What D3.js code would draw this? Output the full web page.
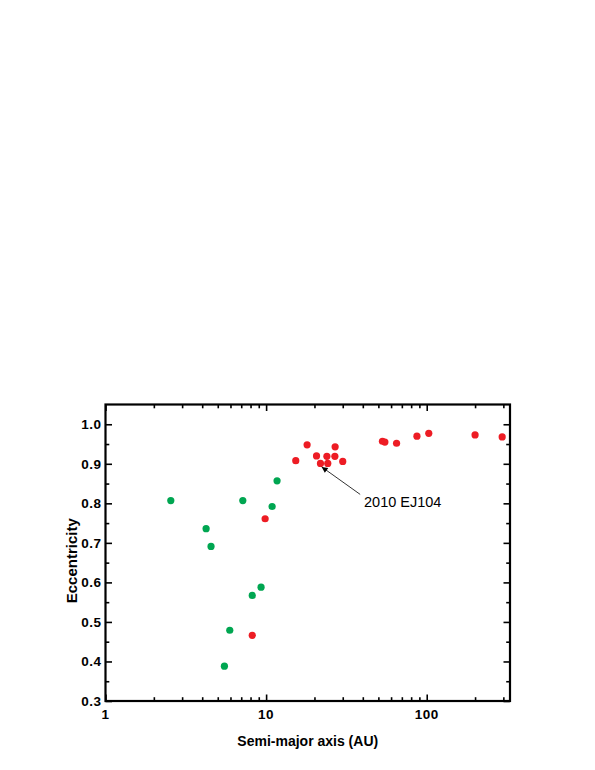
<!DOCTYPE html>
<html>
<head>
<meta charset="utf-8">
<script src="https://cdn.jsdelivr.net/npm/d3@7"></script>
<style>
  html, body { margin: 0; padding: 0; background: #fff; }
  svg { display: block; }
  text { font-family: "Liberation Sans", Arial, sans-serif; fill: #000; }
</style>
</head>
<body>
<svg id="chart" width="595" height="770"></svg>
<script>
// ---- data ----
const greenA = [2.55, 4.23, 4.54, 7.16, 10.9, 11.7, 9.3, 8.2, 5.94, 5.5];
const greenE = [0.807, 0.736, 0.691, 0.807, 0.792, 0.857, 0.588, 0.567, 0.479, 0.388];
const redA = [8.2, 9.86, 15.3, 18.0, 20.6, 21.8, 23.9, 24.2, 26.8, 26.9, 30.0, 53.0, 54.9, 64.9, 86.9, 103, 200, 295];
const redE = [0.466, 0.761, 0.908, 0.948, 0.920, 0.901, 0.919, 0.901, 0.919, 0.943, 0.906, 0.957, 0.955, 0.952, 0.970, 0.977, 0.973, 0.968];
const xMajorTicks = [1, 10, 100];
const xMinorTicks = [2, 3, 4, 5, 6, 7, 8, 9, 20, 30, 40, 50, 60, 70, 80, 90, 200, 300];
const yMajorTicks = [0.3, 0.4, 0.5, 0.6, 0.7, 0.8, 0.9, 1.0];
const yMinorTicks = [0.35, 0.45, 0.55, 0.65, 0.75, 0.85, 0.95];
const xDomain = [1, 330];
const yDomain = [0.3, 1.05];
const annotation = { label: "2010 EJ104", a: 21.8, e: 0.901 };
const xTitle = "Semi-major axis (AU)";
const yTitle = "Eccentricity";

// ---- layout ----
const L = 105.5, T = 404.5, R = 510, B = 701;
const svg = d3.select("#chart");
const x = d3.scaleLog().domain(xDomain).range([L, R]);
const y = d3.scaleLinear().domain(yDomain).range([B, T]);

const g = svg.append("g");

// ticks (inward) using d3 axes
function styleAxis(sel) {
  sel.select(".domain").remove();
  sel.selectAll("line").attr("stroke", "#000").attr("stroke-width", 1.6);
}
const majLen = 6.5, minLen = 3.8;
// bottom
g.append("g").attr("transform", `translate(0,${B})`)
  .call(d3.axisBottom(x).tickValues(xMajorTicks).tickSizeInner(-majLen).tickSizeOuter(0).tickFormat(""))
  .call(styleAxis);
g.append("g").attr("transform", `translate(0,${B})`)
  .call(d3.axisBottom(x).tickValues(xMinorTicks).tickSizeInner(-minLen).tickSizeOuter(0).tickFormat(""))
  .call(styleAxis);
// top
g.append("g").attr("transform", `translate(0,${T})`)
  .call(d3.axisTop(x).tickValues(xMajorTicks).tickSizeInner(-majLen).tickSizeOuter(0).tickFormat(""))
  .call(styleAxis);
g.append("g").attr("transform", `translate(0,${T})`)
  .call(d3.axisTop(x).tickValues(xMinorTicks).tickSizeInner(-minLen).tickSizeOuter(0).tickFormat(""))
  .call(styleAxis);
// left
g.append("g").attr("transform", `translate(${L},0)`)
  .call(d3.axisLeft(y).tickValues(yMajorTicks).tickSizeInner(-majLen).tickSizeOuter(0).tickFormat(""))
  .call(styleAxis);
g.append("g").attr("transform", `translate(${L},0)`)
  .call(d3.axisLeft(y).tickValues(yMinorTicks).tickSizeInner(-minLen).tickSizeOuter(0).tickFormat(""))
  .call(styleAxis);
// right
g.append("g").attr("transform", `translate(${R},0)`)
  .call(d3.axisRight(y).tickValues(yMajorTicks).tickSizeInner(-majLen).tickSizeOuter(0).tickFormat(""))
  .call(styleAxis);
g.append("g").attr("transform", `translate(${R},0)`)
  .call(d3.axisRight(y).tickValues(yMinorTicks).tickSizeInner(-minLen).tickSizeOuter(0).tickFormat(""))
  .call(styleAxis);

// frame
g.append("rect").attr("x", L).attr("y", T).attr("width", R - L).attr("height", B - T)
  .attr("fill", "none").attr("stroke", "#000").attr("stroke-width", 2.2);

// tick labels
g.selectAll(".ylab").data(yMajorTicks).enter().append("text")
  .attr("x", L - 4).attr("y", d => y(d)).attr("dy", "0.36em")
  .attr("text-anchor", "end").attr("font-weight", "bold").attr("font-size", 13.5)
  .attr("letter-spacing", 0.5)
  .text(d => d.toFixed(1));
g.selectAll(".xlab").data(xMajorTicks).enter().append("text")
  .attr("x", d => x(d)).attr("y", B + 18)
  .attr("text-anchor", "middle").attr("font-weight", "bold").attr("font-size", 13.5)
  .attr("letter-spacing", 0.5)
  .text(d => String(d));

// axis titles
g.append("text").attr("x", (L + R) / 2).attr("y", 745.5)
  .attr("text-anchor", "middle").attr("font-weight", "bold").attr("font-size", 14)
  .text(xTitle);
g.append("text").attr("transform", `translate(76.5,${(T + B) / 2 + 8}) rotate(-90)`)
  .attr("text-anchor", "middle").attr("font-weight", "bold").attr("font-size", 15)
  .text(yTitle);

// points
const green = greenA.map((a, i) => ({ a, e: greenE[i] }));
const red = redA.map((a, i) => ({ a, e: redE[i] }));
g.selectAll(".gp").data(green).enter().append("circle")
  .attr("cx", d => x(d.a)).attr("cy", d => y(d.e)).attr("r", 3.6)
  .attr("fill", "#00a651");
g.selectAll(".rp").data(red).enter().append("circle")
  .attr("cx", d => x(d.a)).attr("cy", d => y(d.e)).attr("r", 3.6)
  .attr("fill", "#ed1c24");

// annotation arrow
svg.append("defs").append("marker").attr("id", "ah")
  .attr("viewBox", "0 0 10 10").attr("refX", 10).attr("refY", 5)
  .attr("markerWidth", 7).attr("markerHeight", 6).attr("markerUnits", "userSpaceOnUse")
  .attr("orient", "auto")
  .append("path").attr("d", "M0,0 L10,5 L0,10 z").attr("fill", "#000");
const tipX = x(annotation.a) + 1.2, tipY = y(annotation.e) + 3.5;
g.append("line").attr("x1", tipX + 38.5).attr("y1", tipY + 27.5)
  .attr("x2", tipX).attr("y2", tipY)
  .attr("stroke", "#000").attr("stroke-width", 0.8).attr("marker-end", "url(#ah)");
g.append("text").attr("x", 364).attr("y", 506.5)
  .attr("font-size", 14.5).text(annotation.label);
</script>
</body>
</html>
